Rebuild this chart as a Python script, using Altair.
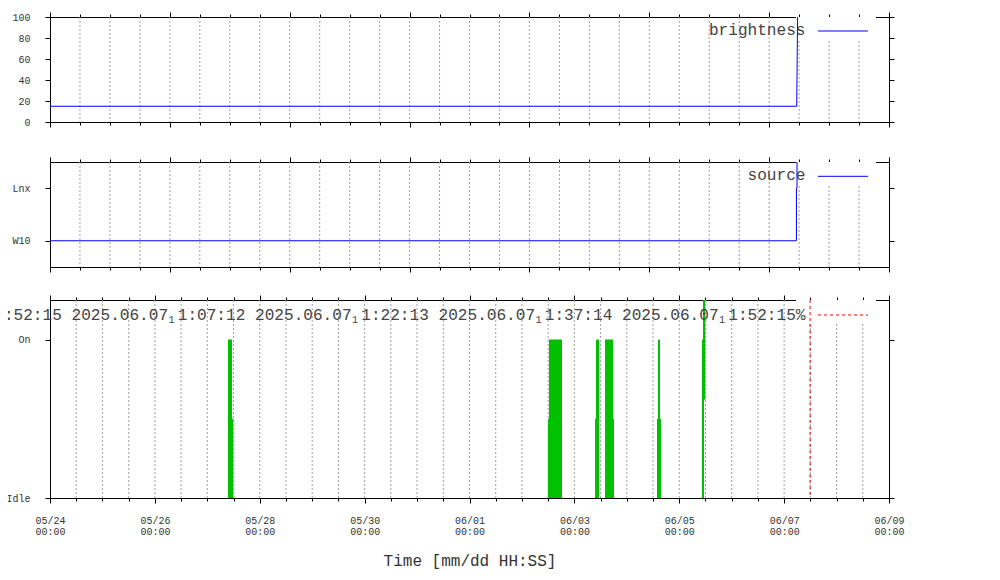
import json
import altair as alt
import pandas as pd

# ---------------- data ----------------
top_minutes = [0.0, 24.92, 24.95]
brightness = [15, 15, 100]

source_minutes = [0.0, 24.91, 24.91, 24.93, 24.93]
source_code = [0, 0, 1, 1, 2]
source_levels = ["W10", "Lnx"]

state_start = ["2025-05-27T09:28:00", "2025-05-27T11:18:00", "2025-06-02T11:56:00",
               "2025-06-02T12:23:00", "2025-06-03T09:26:00", "2025-06-03T09:53:00",
               "2025-06-03T14:01:00", "2025-06-03T17:41:00", "2025-06-04T13:49:00",
               "2025-06-04T14:17:00", "2025-06-04T15:12:00", "2025-06-05T10:25:00",
               "2025-06-05T10:52:00"]
state_end = ["2025-05-27T11:18:00", "2025-05-27T11:45:00", "2025-06-02T12:23:00",
             "2025-06-02T18:20:00", "2025-06-03T09:53:00", "2025-06-03T11:16:00",
             "2025-06-03T17:41:00", "2025-06-03T18:08:00", "2025-06-04T14:17:00",
             "2025-06-04T15:12:00", "2025-06-04T15:39:00", "2025-06-05T11:19:00",
             "2025-06-05T11:47:00"]
state_low = [0, 0, 0, 0, 0, 0, 0, 0, 0, 0, 0, 0, 0.62]
state_high = [1, 0.5, 0.5, 1, 0.5, 1, 1, 0.5, 0.5, 1, 0.5, 1, 1.4]
state_levels = ["Idle", "On"]
now_time = ["2025-06-07T11:52:15"]

brightness_ticks = [0, 20, 40, 60, 80, 100]
key_brightness = "brightness"
key_source = "source"
key_now = ("0:52:15 2025.06.07 1:07:12 2025.06.07 1:22:13 "
           "2025.06.07 1:37:14 2025.06.07 1:52:15%")
key_sub = "1"
x_title = "Time [mm/dd HH:SS]"

# ---------------- layout / style ----------------
W, H = 839, 481
FONT = "Liberation Mono"
TXT = "#333333"
KEYTXT = "#444444"
GRID = "#a0a0a0"
BLUE = "#0000ff"
GREEN = "#00c000"
RED = "#ff0000"
KEY_FS = 16.1
CW = 0.6 * KEY_FS

one = pd.DataFrame({"k": [0]})


def inv_axis_layers(df, X, Y, top, bottom, xminor, xmajor, yvalues, ylabelexpr,
                    major_extra=None):
    off_b = bottom - H
    off_t = -top
    base = alt.Chart(df).mark_point(opacity=0)
    yl = dict(orient="left", values=yvalues, tickSize=5, labelPadding=15,
              domain=True, grid=False, title=None)
    if ylabelexpr:
        yl["labelExpr"] = ylabelexpr
    maj = dict(orient="bottom", offset=off_b, values=xmajor, tickSize=5,
               labels=False, domain=False, grid=False, title=None)
    if major_extra:
        maj.update(major_extra)
    return [
        base.encode(x=X(alt.Axis(orient="bottom", offset=off_b, values=xminor, tickSize=3,
                                 labels=False, domain=True, grid=False, title=None)),
                    y=Y(alt.Axis(**yl))),
        base.encode(x=X(alt.Axis(**maj)),
                    y=Y(alt.Axis(orient="right", values=yvalues, tickSize=5, labels=False,
                                 domain=True, grid=False, title=None))),
        base.encode(x=X(alt.Axis(orient="top", offset=off_t, values=xminor, tickSize=3,
                                 labels=False, domain=True, grid=False, title=None)),
                    y=Y(None)),
        base.encode(x=X(alt.Axis(orient="top", offset=off_t, values=xmajor, tickSize=5,
                                 labels=False, domain=False, grid=False, title=None)),
                    y=Y(None)),
    ]


def key_layers(label, top, text_base, sample_y, color, dash=None):
    lab = alt.Chart(pd.DataFrame({"label": [label]})).mark_text(
        align="right", baseline="alphabetic", font=FONT, fontSize=KEY_FS, color=KEYTXT
    ).encode(text="label:N", x=alt.value(755.5), y=alt.value(text_base))
    rule_kw = dict(color=color, strokeWidth=1)
    if dash:
        rule_kw["strokeDash"] = dash
    samp = alt.Chart(one).mark_rule(**rule_kw).encode(
        x=alt.value(768), x2=alt.value(818), y=alt.value(sample_y))
    return lab, samp


def blank(top):
    return alt.Chart(one).mark_rect(color="white").encode(
        x=alt.value(746), x2=alt.value(826), y=alt.value(top), y2=alt.value(top + 23))


# ---------- panel 1 and 2 (quantitative x, hidden labels) ----------
xminor_q = list(range(0, 29))
xmajor_q = list(range(0, 29, 4))
xs_q = alt.Scale(domain=[0, 28], nice=False, zero=False)
grid_q = pd.DataFrame({"g": xminor_q[1:-1]})


def quant_panel(df, yfield, ydomain, top, bottom, yvalues, ylabelexpr, key, text_base, sample_y):
    ys = alt.Scale(domain=ydomain, range=[bottom, top], nice=False, zero=False, clamp=True)

    def X(axis):
        return alt.X("t:Q", scale=xs_q, axis=axis)

    def Y(axis):
        return alt.Y(f"{yfield}:Q", scale=ys, axis=axis)

    grid = alt.Chart(grid_q).mark_rule(color=GRID, strokeDash=[2, 2], strokeWidth=1).encode(
        x=alt.X("g:Q", scale=xs_q, axis=None), y=alt.value(top), y2=alt.value(bottom))
    line = alt.Chart(df).mark_line(color=BLUE, strokeWidth=1).encode(
        x=X(None), y=Y(None), order="i:Q")
    lab, samp = key_layers(key, top, text_base, sample_y, BLUE)
    return [grid, blank(top), line, lab, samp] + inv_axis_layers(
        df, X, Y, top, bottom, xminor_q, xmajor_q, yvalues, ylabelexpr)


df_b = pd.DataFrame({"t": top_minutes, "v": brightness, "i": range(len(top_minutes))})
df_s = pd.DataFrame({"t": source_minutes, "v": source_code, "i": range(len(source_minutes))})

p1 = quant_panel(df_b, "v", [0, 100], 0, 105, brightness_ticks, None, key_brightness, 18.3, 14)
p2 = quant_panel(df_s, "v", [-0.5, 1.5], 145, 250, [0, 1],
                 f"{json.dumps(source_levels)}[datum.value]", key_source, 163, 159.3)

# ---------- panel 3 (time) ----------
T3, B3 = 283, 481


def dt(t):
    t = pd.Timestamp(t)
    return alt.DateTime(year=t.year, month=t.month, date=t.day, hours=t.hour, minutes=t.minute)


rng12 = pd.date_range("2025-05-24", "2025-06-09", freq="12h")
rng2d = pd.date_range("2025-05-24", "2025-06-09", freq="2D")
xminor_t = [dt(t) for t in rng12]
xmajor_t = [dt(t) for t in rng2d]
grid_t = pd.DataFrame({"g": [t.strftime("%Y-%m-%dT%H:%M:%S") for t in rng12[1:-1]]})
xs_t = alt.Scale(domain=[dt("2025-05-24"), dt("2025-06-09")], nice=False)
ys_t = alt.Scale(domain=[0, 1.25], range=[B3, T3], nice=False, zero=False, clamp=True)

df_state = pd.DataFrame({"start": state_start, "end": state_end,
                         "low": state_low, "high": state_high})
df_now = pd.DataFrame({"now": now_time})


def X3(axis, field="start"):
    return alt.X(f"{field}:T", scale=xs_t, axis=axis)


def Y3(axis):
    return alt.Y("low:Q", scale=ys_t, axis=axis)


grid3 = alt.Chart(grid_t).mark_rule(color=GRID, strokeDash=[2, 2], strokeWidth=1).encode(
    x=alt.X("g:T", scale=xs_t, axis=None), y=alt.value(T3), y2=alt.value(B3))
bars = alt.Chart(df_state).mark_rect(color=GREEN).encode(
    x=X3(None), x2="end:T", y=Y3(None), y2="high:Q")
now_rule = alt.Chart(df_now).mark_rule(color=RED, strokeDash=[3, 3], strokeWidth=1).encode(
    x=alt.X("now:T", scale=xs_t, axis=None), y=alt.value(T3), y2=alt.value(B3))
lab3, samp3 = key_layers(key_now, T3, 303, 298, RED, dash=[3, 3])

right_edge = 755.5
subs = []
for k in range(4):
    slot = right_edge - (9 + 19 * (3 - k)) * CW
    subs.append(alt.Chart(pd.DataFrame({"s": [key_sub]})).mark_text(
        align="left", baseline="alphabetic", font=FONT, fontSize=10, color=KEYTXT
    ).encode(text="s:N", x=alt.value(slot + 0.5), y=alt.value(305.5)))

major_extra = dict(
    labels=True,
    labelExpr="[timeFormat(datum.value, '%m/%d'), timeFormat(datum.value, '%H:%M')]",
    labelFlush=False, labelOverlap=False, labelPadding=12, labelLineHeight=11.5,
    labelAlign="center", title=x_title, titlePadding=16,
)
p3 = [grid3, blank(T3), bars, now_rule, lab3, samp3] + subs + inv_axis_layers(
    df_state, X3, Y3, T3, B3, xminor_t, xmajor_t, [0, 1],
    f"{json.dumps(state_levels)}[datum.value]", major_extra)

chart = alt.layer(*(p1 + p2 + p3)).resolve_scale(
    x="independent", y="independent"
).resolve_axis(
    x="independent", y="independent"
).properties(
    width=W, height=H,
    autosize=alt.AutoSizeParams(type="none"),
    padding={"left": 42, "top": 9, "right": 40, "bottom": 76},
).configure_view(
    stroke="transparent"
).configure_axis(
    labelFont=FONT, labelFontSize=10, labelColor=TXT,
    tickColor="black", tickWidth=1, domainColor="black", domainWidth=1,
    titleFont=FONT, titleFontSize=16, titleFontWeight="normal", titleColor=TXT,
)

chart.save("out.html", embed_options={"renderer": "svg", "actions": False})
